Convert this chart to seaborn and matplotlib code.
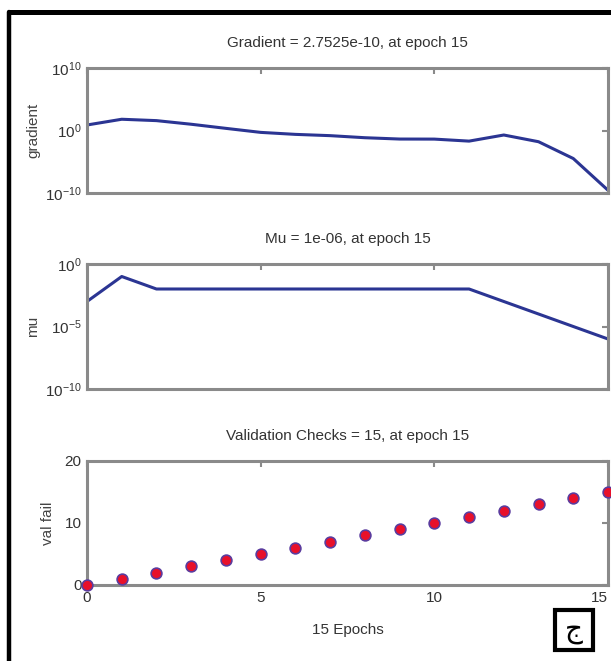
import numpy as np
import pandas as pd
import seaborn as sns
import matplotlib.pyplot as plt
from matplotlib.lines import Line2D
from matplotlib.patches import Rectangle
from matplotlib.ticker import NullLocator

# training record
epochs = list(range(16))
gradient = [7.6, 63, 38, 10, 2.2, 0.5, 0.24, 0.15, 0.07, 0.043, 0.042, 0.02, 0.19, 0.016, 3.3e-5, 2.7525e-10]
mu = [1e-3, 1e-1, 1e-2, 1e-2, 1e-2, 1e-2, 1e-2, 1e-2, 1e-2, 1e-2, 1e-2, 1e-2, 1e-3, 1e-4, 1e-5, 1e-6]
val_fail = [0, 1, 2, 3, 4, 5, 6, 7, 8, 9, 10, 11, 12, 13, 14, 15]

titles = ['Gradient = 2.7525e-10, at epoch 15', 'Mu = 1e-06, at epoch 15', 'Validation Checks = 15, at epoch 15']
ylabels = ['gradient', 'mu', 'val fail']

df = pd.DataFrame({'epoch': epochs, 'gradient': gradient, 'mu': mu, 'val_fail': val_fail})

sns.set_style('white')
plt.rcParams['font.family'] = ['Liberation Sans', 'DejaVu Sans']
plt.rcParams['font.size'] = 11

W, H = 611, 661
fig = plt.figure(figsize=(W / 100, H / 100), dpi=100)

def box(top, bottom):
    return [87 / W, 1 - bottom / H, (608 - 87) / W, (bottom - top) / H]

ax1 = fig.add_axes(box(68, 193))
ax2 = fig.add_axes(box(264, 389))
ax3 = fig.add_axes(box(461, 585))

line_col = '#2b3593'
spine_col = '#8a8a8a'

sns.lineplot(data=df, x='epoch', y='gradient', ax=ax1, color=line_col, linewidth=2.2)
sns.lineplot(data=df, x='epoch', y='mu', ax=ax2, color=line_col, linewidth=2.2)
sns.scatterplot(data=df, x='epoch', y='val_fail', ax=ax3, color='#e8102a',
                edgecolor='#5b3c9e', linewidth=1.2, s=60, clip_on=False, zorder=5)

ax1.set_yscale('log')
ax1.set_ylim(1e-10, 1e10)
ax1.set_yticks([1e-10, 1, 1e10])
ax2.set_yscale('log')
ax2.set_ylim(1e-10, 1)
ax2.set_yticks([1e-10, 1e-5, 1])
ax3.set_ylim(0, 20)
ax3.set_yticks([0, 10, 20])

for ax, t, yl, lx, h in zip([ax1, ax2, ax3], titles, ylabels, [-0.09, -0.09, -0.062], [125, 125, 124]):
    ax.set_xlim(0, 15)
    ax.set_xticks([0, 5, 10, 15])
    ax.yaxis.set_minor_locator(NullLocator())
    ax.tick_params(direction='in', length=4, width=1.5, color=spine_col,
                   top=True, right=True, labelsize=11, labelcolor='#333333', pad=4)
    for s in ax.spines.values():
        s.set_color(spine_col)
        s.set_linewidth(2.2)
        s.set_visible(True)
    ax.text(0.5, 1 + 25 / h, t, transform=ax.transAxes, ha='center', va='center',
            fontsize=11, color='#333333')
    ax.set_ylabel(yl, fontsize=11, color='#444444')
    ax.yaxis.set_label_coords(lx, 0.5)
    ax.set_xlabel('')

ax1.tick_params(labelbottom=False)
ax2.tick_params(labelbottom=False)
# keep the last epoch label inside the picture
ax3.get_xticklabels()[-1].set_horizontalalignment('right')
ax3.text(0.5, -45 / 124, '15 Epochs', transform=ax3.transAxes, ha='center', va='center',
         fontsize=11, color='#333333')

# black frame on the left and top
fig.add_artist(Line2D([9 / W, 9 / W], [0, 1 - 12 / H], color='black', linewidth=3.2))
fig.add_artist(Line2D([9 / W, 1], [1 - 12 / H, 1 - 12 / H], color='black', linewidth=3.6))

# panel label box
fig.add_artist(Rectangle((555 / W, 1 - 650 / H), 38 / W, 40 / H, transform=fig.transFigure,
                         fill=False, edgecolor='black', linewidth=3))
fig.text(574 / W, 1 - 630 / H, 'ج', ha='center', va='center', fontsize=20,
         family=['DejaVu Sans'], color='black')

fig.savefig('out.png', dpi=100)
